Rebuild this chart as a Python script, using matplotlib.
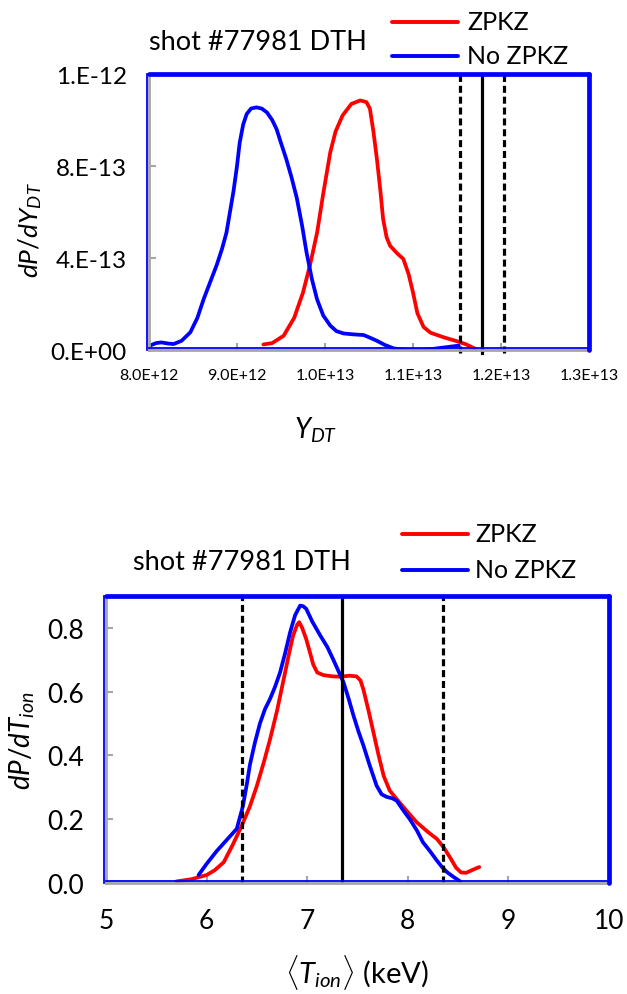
import numpy as np
import matplotlib
matplotlib.use("Agg")
import matplotlib.pyplot as plt
from matplotlib.lines import Line2D
from matplotlib import transforms

plt.rcParams['font.family'] = ['Lato', 'DejaVu Sans']
plt.rcParams['mathtext.fontset'] = 'custom'
plt.rcParams['mathtext.rm'] = 'Lato'
plt.rcParams['mathtext.it'] = 'Lato:italic'
plt.rcParams['mathtext.bf'] = 'Lato:bold'

# ---------------- data ----------------
title = "shot #77981 DTH"
series_names = ["ZPKZ", "No ZPKZ"]
series_colors = ["#ff0000", "#0000ff"]

# top panel: Y_DT (units 1e12) and dP/dY_DT (units 1e-12)
ydt_red = [9.30, 9.40, 9.53, 9.65, 9.75, 9.83, 9.91, 9.98, 10.06, 10.12, 10.20, 10.30,
           10.40, 10.47, 10.51, 10.55, 10.59, 10.63, 10.66, 10.70, 10.74, 10.82, 10.89,
           10.95, 11.00, 11.05, 11.12, 11.20, 11.35, 11.50, 11.60, 11.72]
pdf_ydt_red = [0.024, 0.030, 0.062, 0.14, 0.25, 0.37, 0.51, 0.68, 0.86, 0.95, 1.02, 1.07,
               1.085, 1.078, 1.05, 0.95, 0.83, 0.69, 0.57, 0.49, 0.453, 0.42, 0.396,
               0.33, 0.25, 0.16, 0.10, 0.075, 0.055, 0.038, 0.025, 0.003]
ydt_blue = [8.01, 8.08, 8.14, 8.22, 8.28, 8.37, 8.47, 8.55, 8.62, 8.70, 8.77, 8.83, 8.88,
            8.92, 8.96, 9.00, 9.03, 9.07, 9.11, 9.16, 9.22, 9.28, 9.34, 9.40, 9.45, 9.50,
            9.56, 9.62, 9.68, 9.74, 9.79, 9.85, 9.91, 9.98, 10.06, 10.13, 10.21, 10.32,
            10.44, 10.52, 10.59, 10.68, 10.78, 10.93, 11.13, 11.31, 11.52]
pdf_ydt_blue = [0.019, 0.030, 0.033, 0.028, 0.026, 0.04, 0.077, 0.14, 0.22, 0.30, 0.37, 0.44,
                0.51, 0.60, 0.69, 0.80, 0.90, 0.98, 1.026, 1.050, 1.055, 1.050, 1.033, 1.00,
                0.96, 0.90, 0.83, 0.75, 0.66, 0.54, 0.425, 0.31, 0.22, 0.15, 0.106, 0.082,
                0.072, 0.068, 0.065, 0.052, 0.04, 0.022, 0.007, 0.0, 0.0, 0.009, 0.019]
ydt_meas = [11.53, 11.78, 12.03]          # lower, measured, upper (units 1e12)
ydt_xticks = [8.0, 9.0, 10.0, 11.0, 12.0, 13.0]
ydt_xticklabels = ["8.0E+12", "9.0E+12", "1.0E+13", "1.1E+13", "1.2E+13", "1.3E+13"]
ydt_yticks = [0.0, 0.4, 0.8, 1.2]
ydt_yticklabels = ["0.E+00", "4.E-13", "8.E-13", "1.E-12"]

# bottom panel: <T_ion> (keV) and dP/dT_ion
tion_red = [5.70, 5.85, 6.00, 6.08, 6.17, 6.26, 6.35, 6.43, 6.50, 6.57, 6.63, 6.70, 6.76,
            6.82, 6.86, 6.90, 6.92, 6.95, 6.99, 7.03, 7.06, 7.10, 7.16, 7.25, 7.33, 7.42,
            7.49, 7.53, 7.56, 7.61, 7.66, 7.71, 7.76, 7.82, 7.89, 8.00, 8.09, 8.20, 8.29,
            8.36, 8.42, 8.48, 8.53, 8.58, 8.65, 8.71]
pdf_tion_red = [0.005, 0.012, 0.025, 0.040, 0.065, 0.12, 0.18, 0.24, 0.305, 0.38, 0.45, 0.54,
                0.63, 0.72, 0.776, 0.81, 0.818, 0.80, 0.765, 0.72, 0.685, 0.66, 0.652, 0.648,
                0.647, 0.650, 0.648, 0.635, 0.605, 0.54, 0.47, 0.40, 0.336, 0.29, 0.263,
                0.222, 0.19, 0.16, 0.138, 0.11, 0.08, 0.048, 0.033, 0.032, 0.042, 0.050]
tion_blue = [5.92, 6.00, 6.10, 6.20, 6.30, 6.36, 6.40, 6.43, 6.48, 6.53, 6.58, 6.63, 6.68,
             6.73, 6.78, 6.83, 6.88, 6.93, 6.96, 6.99, 7.05, 7.13, 7.20, 7.26, 7.31, 7.36,
             7.41, 7.46, 7.51, 7.56, 7.62, 7.69, 7.74, 7.79, 7.85, 7.89, 7.95, 8.02, 8.09,
             8.15, 8.22, 8.29, 8.34, 8.39, 8.45, 8.52]
pdf_tion_blue = [0.025, 0.06, 0.10, 0.135, 0.17, 0.24, 0.31, 0.37, 0.44, 0.50, 0.545, 0.577,
                 0.615, 0.66, 0.72, 0.786, 0.84, 0.87, 0.868, 0.86, 0.82, 0.776, 0.74, 0.70,
                 0.665, 0.63, 0.58, 0.525, 0.475, 0.43, 0.37, 0.305, 0.278, 0.27, 0.265,
                 0.258, 0.23, 0.20, 0.165, 0.128, 0.10, 0.07, 0.05, 0.034, 0.02, 0.005]
tion_meas = [6.35, 7.35, 8.35]
tion_xticks = [5, 6, 7, 8, 9, 10]
tion_yticks = [0.0, 0.2, 0.4, 0.6, 0.8]
tion_yticklabels = ["0.0", "0.2", "0.4", "0.6", "0.8"]

X_SCALE_TOP = 1e12
Y_SCALE_TOP = 1e-12

# ---------------- figure ----------------
W, H = 627, 995
fig = plt.figure(figsize=(W / 100, H / 100), dpi=100)


def px_rect(l, r, t, b):
    return [l / W, 1 - b / H, (r - l) / W, (b - t) / H]


GRAY = "#a6a6a6"
BLUE = "#0000ff"
LW = 2.7
VLW = 2.3
DASH = (0, (2.2, 1.2))


def style_axes(ax):
    for s in ["top", "right"]:
        ax.spines[s].set_visible(False)
    for s in ["left", "bottom"]:
        ax.spines[s].set_color(GRAY)
        ax.spines[s].set_linewidth(2.0)
        ax.spines[s].set_zorder(4)
    ax.tick_params(direction="in", color=GRAY, width=1.5, length=5, pad=8)
    o = lambda dx, dy: transforms.offset_copy(ax.transAxes, fig=fig, x=dx, y=dy, units="dots")
    ax.add_line(Line2D([0, 1], [1, 1], color=BLUE, lw=3.4, transform=ax.transAxes,
                       clip_on=False, zorder=5, solid_capstyle="round"))
    ax.add_line(Line2D([1, 1], [0, 1], color=BLUE, lw=3.4, transform=ax.transAxes,
                       clip_on=False, zorder=5, solid_capstyle="round"))
    ax.add_line(Line2D([0, 0], [0, 1], color=BLUE, lw=1.3, transform=o(-2, 0),
                       clip_on=False, zorder=5))
    ax.add_line(Line2D([0, 1], [0, 0], color=BLUE, lw=1.3, transform=o(0, 2),
                       clip_on=False, zorder=5))


# ---- top panel ----
ax1 = fig.add_axes(px_rect(149, 589, 75, 351))
ax1.plot(np.array(ydt_red) * X_SCALE_TOP, np.array(pdf_ydt_red) * Y_SCALE_TOP,
         color=series_colors[0], lw=LW, zorder=3, solid_joinstyle="round", solid_capstyle="round")
ax1.plot(np.array(ydt_blue) * X_SCALE_TOP, np.array(pdf_ydt_blue) * Y_SCALE_TOP,
         color=series_colors[1], lw=LW, zorder=3, solid_joinstyle="round", solid_capstyle="round")
for i, v in enumerate(ydt_meas):
    ax1.axvline(v * X_SCALE_TOP, ymin=-0.01, ymax=1, color="black", lw=VLW,
                ls="-" if i == 1 else DASH, zorder=4, clip_on=False)
ax1.set_xlim(ydt_xticks[0] * X_SCALE_TOP, ydt_xticks[-1] * X_SCALE_TOP)
ax1.set_ylim(ydt_yticks[0] * Y_SCALE_TOP, ydt_yticks[-1] * Y_SCALE_TOP)
ax1.set_xticks(np.array(ydt_xticks) * X_SCALE_TOP)
ax1.set_xticklabels(ydt_xticklabels, fontsize=11.5)
ax1.set_yticks(np.array(ydt_yticks) * Y_SCALE_TOP)
ax1.set_yticklabels(ydt_yticklabels, fontsize=17.5)
style_axes(ax1)
ax1.tick_params(axis="x", pad=13)
ax1.tick_params(axis="y", pad=16)

fig.text(30 / W, 1 - 230 / H, r"$dP/dY_{DT}$", rotation=90, ha="center", va="center",
         fontsize=19)
fig.text(316 / W, 1 - 430 / H, r"$Y_{DT}$", ha="center", va="center", fontsize=20)
fig.text(149 / W, 1 - 42 / H, title, ha="left", va="center", fontsize=19.5)

# ---- bottom panel ----
ax2 = fig.add_axes(px_rect(106, 609, 597, 884))
ax2.plot(tion_red, pdf_tion_red, color=series_colors[0], lw=LW, zorder=3,
         solid_joinstyle="round", solid_capstyle="round")
ax2.plot(tion_blue, pdf_tion_blue, color=series_colors[1], lw=LW, zorder=3,
         solid_joinstyle="round", solid_capstyle="round")
for i, v in enumerate(tion_meas):
    ax2.axvline(v, ymin=0, ymax=1, color="black", lw=VLW,
                ls="-" if i == 1 else DASH, zorder=4)
ax2.set_xlim(tion_xticks[0], tion_xticks[-1])
ax2.set_ylim(0, 0.9)
ax2.set_xticks(tion_xticks)
ax2.set_xticklabels([str(t) for t in tion_xticks], fontsize=19)
ax2.set_yticks(tion_yticks)
ax2.set_yticklabels(tion_yticklabels, fontsize=19)
style_axes(ax2)
ax2.tick_params(axis="x", pad=18)
ax2.tick_params(axis="y", pad=16)

fig.text(22 / W, 1 - 741 / H, r"$dP/dT_{ion}$", rotation=90, ha="center", va="center",
         fontsize=20)
fig.text(357 / W, 1 - 972 / H, r"$\langle T_{ion}\rangle$ (keV)", ha="center", va="center",
         fontsize=21)
fig.text(133 / W, 1 - 563 / H, title, ha="left", va="center", fontsize=19.5)

# ---- legends (manual, figure pixel positions) ----
def legend_at(x0, x1, ys, xt):
    for name, col, y in zip(series_names, series_colors, ys):
        fig.add_artist(Line2D([x0 / W, x1 / W], [1 - y / H, 1 - y / H], color=col, lw=2.8,
                              transform=fig.transFigure, solid_capstyle="round"))
        fig.text(xt / W, 1 - y / H, name, ha="left", va="center", fontsize=18)


legend_at(392, 458, [23, 57], 467)
legend_at(402, 468, [535, 571], 475)

fig.savefig("out.png", dpi=100)
